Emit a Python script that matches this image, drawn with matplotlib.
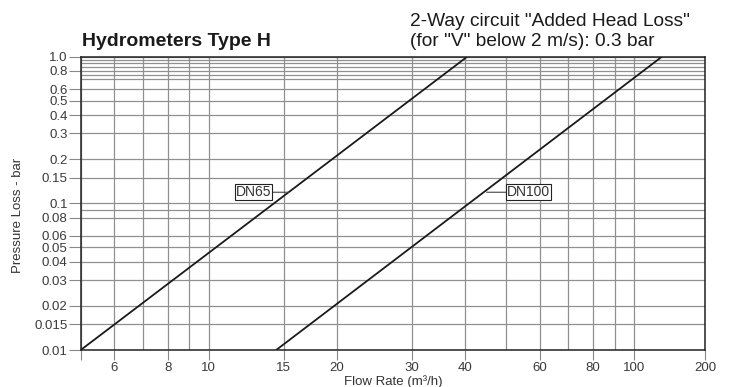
import numpy as np
import matplotlib
matplotlib.use("Agg")
import matplotlib.pyplot as plt
from matplotlib.ticker import FixedLocator, FixedFormatter

plt.rcParams['font.family'] = ['Liberation Sans', 'DejaVu Sans']

# flow rate (m3/h) vs pressure loss (bar), end points of each straight line
dn65_flow = [5.0, 40.5]
dn65_loss = [0.01, 1.0]
dn100_flow = [14.4, 131.0]
dn100_loss = [0.01, 1.0]

x_ticks = [5, 6, 8, 10, 15, 20, 30, 40, 60, 80, 100, 200]
x_labels = ['', '6', '8', '10', '15', '20', '30', '40', '60', '80', '100', '200']
x_minor = [7, 9, 50, 70, 90]

y_ticks = [0.01, 0.015, 0.02, 0.03, 0.04, 0.05, 0.06, 0.08, 0.1, 0.15,
           0.2, 0.3, 0.4, 0.5, 0.6, 0.8, 1.0]
y_labels = ['0.01', '0.015', '0.02', '0.03', '0.04', '0.05', '0.06', '0.08',
            '0.1', '0.15', '0.2', '0.3', '0.4', '0.5', '0.6', '0.8', '1.0']
y_minor = [0.09, 0.7, 0.75, 0.85, 0.9, 0.95]

# log axis, squeezed above 100
K = 0.555

def fwd(x):
    lx = np.log10(np.clip(np.asarray(x, float), 1e-9, None))
    return np.where(lx <= 2, lx, 2 + (lx - 2) * K)

def inv(u):
    u = np.asarray(u, float)
    return np.where(u <= 2, 10.0 ** u, 10.0 ** (2 + (u - 2) / K))

fig = plt.figure(figsize=(7.34, 3.87), dpi=100)
ax = fig.add_axes([0.110, 0.0956, 0.851, 0.758])

ax.set_xscale('function', functions=(fwd, inv))
ax.set_yscale('log')
ax.set_xlim(5, 200)
ax.set_ylim(0.01, 1.0)

ax.xaxis.set_major_locator(FixedLocator(x_ticks))
ax.xaxis.set_major_formatter(FixedFormatter(x_labels))
ax.xaxis.set_minor_locator(FixedLocator(x_minor))
ax.yaxis.set_major_locator(FixedLocator(y_ticks))
ax.yaxis.set_major_formatter(FixedFormatter(y_labels))
ax.yaxis.set_minor_locator(FixedLocator(y_minor))
ax.yaxis.set_minor_formatter(FixedFormatter([''] * len(y_minor)))
ax.xaxis.set_minor_formatter(FixedFormatter([''] * len(x_minor)))

ax.grid(True, which='both', color='#909090', lw=0.9)
ax.set_axisbelow(True)
ax.tick_params(axis='both', which='minor', length=0)
ax.tick_params(axis='y', which='major', length=8.5, width=0.8, color='#888888',
               pad=1, labelsize=9.5, labelcolor='#3a3a3a')
ax.tick_params(axis='x', which='major', length=7, width=0.8, color='#888888',
               pad=1.5, labelsize=9.5, labelcolor='#3a3a3a')
for s in ax.spines.values():
    s.set_linewidth(1.1)
    s.set_color('#222222')

ax.plot(dn65_flow, dn65_loss, color='#1a1a1a', lw=1.3, solid_capstyle='butt')
ax.plot(dn100_flow, dn100_loss, color='#1a1a1a', lw=1.3, solid_capstyle='butt')

box = dict(boxstyle='square,pad=0.06', fc='white', ec='#222222', lw=0.8)
ax.annotate('DN65', xy=(15.4, 0.119), xytext=(14.0, 0.119), ha='right', va='center',
            fontsize=10, color='#333333', bbox=box,
            arrowprops=dict(arrowstyle='-', lw=0.8, color='#444444', shrinkA=0, shrinkB=0))
ax.annotate('DN100', xy=(45.0, 0.119), xytext=(50.3, 0.119), ha='left', va='center',
            fontsize=10, color='#333333', bbox=box,
            arrowprops=dict(arrowstyle='-', lw=0.8, color='#444444', shrinkA=0, shrinkB=0))

fig.text(81.5 / 734, 1 - 46.5 / 387, 'Hydrometers Type H', fontsize=14,
         fontweight='bold', color='#1a1a1a', va='baseline')
fig.text(410 / 734, 1 - 26.5 / 387, '2-Way circuit "Added Head Loss"',
         fontsize=13.8, color='#1a1a1a', va='baseline')
fig.text(410 / 734, 1 - 46.5 / 387, '(for "V" below 2 m/s): 0.3 bar',
         fontsize=13.8, color='#1a1a1a', va='baseline')

fig.text(18 / 734, 1 - 215 / 387, 'Pressure Loss - bar', rotation=90,
         fontsize=9.5, color='#333333', ha='center', va='center')
fig.text(393 / 734, 1 - 381.5 / 387, 'Flow Rate (m³/h)', fontsize=9.5,
         color='#333333', ha='center', va='center')

fig.savefig('out.png', dpi=100)
